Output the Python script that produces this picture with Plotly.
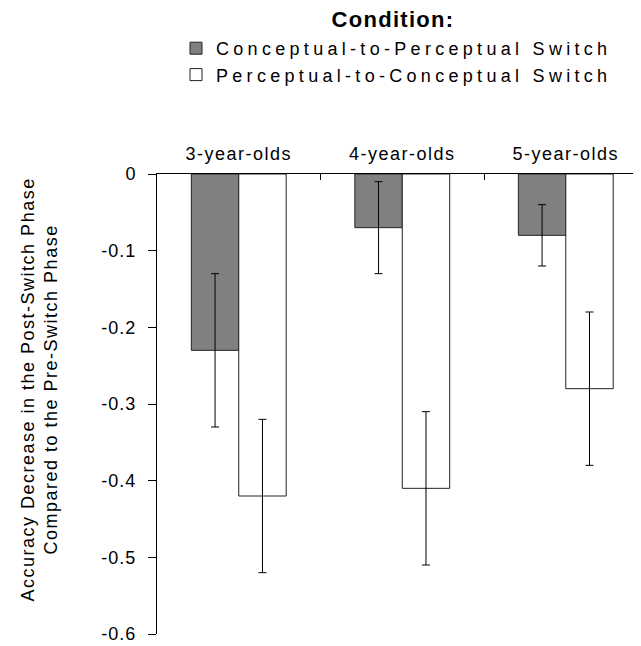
import plotly.graph_objects as go

categories = ["3-year-olds", "4-year-olds", "5-year-olds"]
series_names = ["Conceptual-to-Perceptual Switch", "Perceptual-to-Conceptual Switch"]
conc_to_perc = [-0.23, -0.07, -0.08]
conc_to_perc_err = [0.10, 0.06, 0.04]
perc_to_conc = [-0.42, -0.41, -0.28]
perc_to_conc_err = [0.10, 0.10, 0.10]
y_ticks = [0, -0.1, -0.2, -0.3, -0.4, -0.5, -0.6]

FONT = "Liberation Sans, Arial, sans-serif"

# figure is 8px smaller than the window because the page body has an 8px margin
W, H = 633, 638
L, T, R, B = 149, 166, 0, 12
PW, PH = W - L - R, H - T - B

fig = go.Figure()
fig.add_trace(go.Bar(
    x=categories, y=conc_to_perc, name=series_names[0],
    marker=dict(color="#808080", line=dict(color="#222222", width=1)),
    error_y=dict(type="data", array=conc_to_perc_err, color="#000000", thickness=1, width=4),
))
fig.add_trace(go.Bar(
    x=categories, y=perc_to_conc, name=series_names[1],
    marker=dict(color="#ffffff", line=dict(color="#222222", width=1)),
    error_y=dict(type="data", array=perc_to_conc_err, color="#000000", thickness=1, width=4),
))

fig.update_layout(
    width=W, height=H,
    margin=dict(l=L, r=R, t=T, b=B, autoexpand=False),
    paper_bgcolor="white", plot_bgcolor="white",
    barmode="group", bargap=0.42, bargroupgap=0,
    font=dict(family=FONT, size=18, color="#000000"),
    showlegend=True,
    legend=dict(
        x=(168 - L) / PW, y=1 + (T - 22) / PH, xanchor="left", yanchor="top",
        font=dict(size=18),
        traceorder="normal",
        tracegroupgap=0,
        bgcolor="rgba(0,0,0,0)",
    ),
    xaxis=dict(
        side="top", type="category", automargin=False,
        range=[-0.5, 2.46], tickangle=0,
        showline=True, linecolor="#000000", linewidth=1,
        ticks="inside", tickson="boundaries", ticklen=6, tickcolor="#000000",
        showgrid=False, zeroline=False,
        tickfont=dict(size=18),
        ticklabelstandoff=6,
    ),
    yaxis=dict(
        range=[-0.6, 0], automargin=False,
        tickvals=y_ticks, ticktext=[("0" if v == 0 else f"{v:.1f}") for v in y_ticks],
        showline=True, linecolor="#000000", linewidth=1,
        ticks="outside", ticklen=8, tickcolor="#000000",
        showgrid=False, zeroline=False,
        tickfont=dict(size=18),
        ticklabelstandoff=8,
    ),
)

fig.add_annotation(
    xref="paper", yref="paper", x=(385 - L) / PW, y=1 + (T - 11) / PH,
    text="<b>Condition:</b>", showarrow=False, xanchor="center", yanchor="middle",
    font=dict(size=22, color="#000000"),
)
fig.add_annotation(
    xref="paper", yref="paper", x=(31 - L) / PW, y=1 - (382 - T) / PH,
    text="Accuracy Decrease in the Post-Switch Phase<br>Compared to the Pre-Switch Phase",
    textangle=-90, showarrow=False, xanchor="center", yanchor="middle",
    font=dict(size=18, color="#000000"),
)

post_js = """
var gd = document.querySelector('.plotly-graph-div');
function sp(sel, v){ gd.querySelectorAll(sel).forEach(function(t){ t.style.letterSpacing = v; }); }
sp('.legendtext', '4.3px');
sp('.xtick text', '1.5px');
sp('.ytick text', '1px');
gd.querySelectorAll('.annotation-text').forEach(function(t){
  if (t.textContent.indexOf('Condition') >= 0) { t.style.letterSpacing = '1.3px'; }
  else { t.style.letterSpacing = '1.5px'; }
});
gd.querySelectorAll('.legend [clip-path]').forEach(function(e){ e.removeAttribute('clip-path'); });
"""

fig.write_html("out.html", post_script=post_js)
